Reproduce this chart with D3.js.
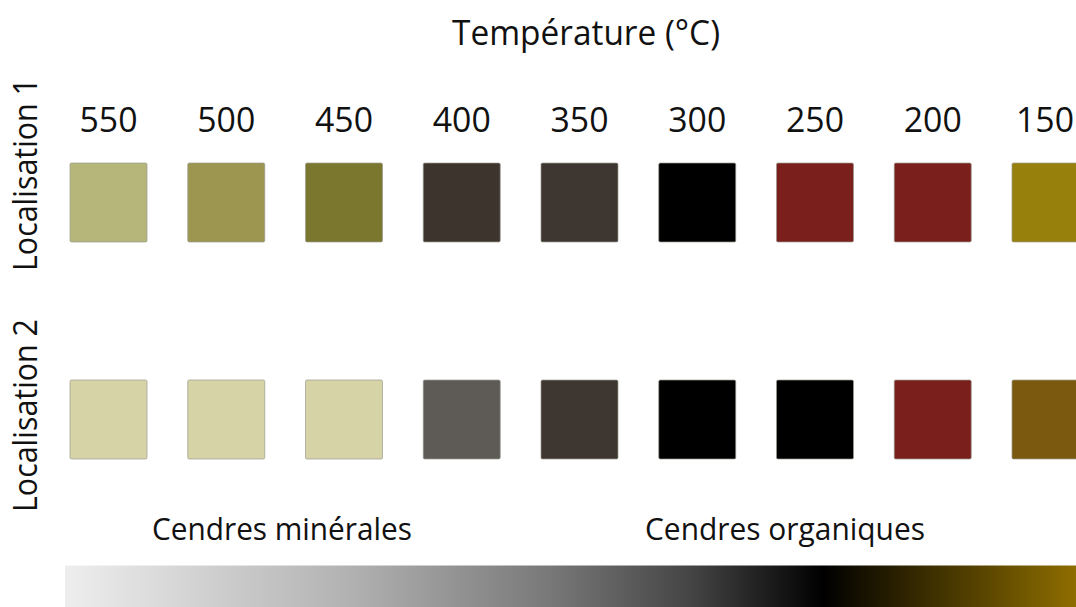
<!DOCTYPE html>
<html>
<head>
<meta charset="utf-8">
<script src="https://cdn.jsdelivr.net/npm/d3@7"></script>
<style>
  html, body { margin: 0; padding: 0; background: #ffffff; }
  svg { display: block; }
  text { font-family: "Open Sans", "Noto Sans", sans-serif; fill: #111; }
</style>
</head>
<body>
<svg id="chart" width="1076" height="607"></svg>
<script>
// ---- data ----
const chartTitle = "Température (°C)";
const temperatures = [550, 500, 450, 400, 350, 300, 250, 200, 150];
const locations = ["Localisation 1", "Localisation 2"];
const colorsLocalisation1 = ["#b6b67b", "#9d9650", "#7c772f", "#3d342e", "#3e3631", "#000000", "#7a1f1c", "#7a1f1c", "#97800b"];
const colorsLocalisation2 = ["#d6d3a6", "#d6d3a6", "#d6d3a6", "#5e5a56", "#3e3631", "#000000", "#000000", "#7a1f1c", "#7b5a10"];
const ashCategories = ["Cendres minérales", "Cendres organiques"];
const gradientStops = [
  { offset: 0.00, color: "#eeeeee" },
  { offset: 0.28, color: "#b2b2b2" },
  { offset: 0.48, color: "#787878" },
  { offset: 0.62, color: "#444444" },
  { offset: 0.75, color: "#000000" },
  { offset: 1.00, color: "#8e6e00" }
];

// ---- drawing ----
const svg = d3.select("#chart");
const W = 1076, H = 607;

const x = d3.scaleBand()
  .domain(temperatures)
  .range([70, 1089])
  .paddingInner(0.346)
  .paddingOuter(0);

const y = d3.scaleBand()
  .domain(locations)
  .range([163, 459])
  .paddingInner(0.636)
  .paddingOuter(0);

const rows = [
  { loc: locations[0], colors: colorsLocalisation1 },
  { loc: locations[1], colors: colorsLocalisation2 }
];

// title
svg.append("text")
  .attr("x", 586).attr("y", 45)
  .attr("text-anchor", "middle")
  .attr("font-size", 35)
  .attr("textLength", 268).attr("lengthAdjust", "spacingAndGlyphs")
  .text(chartTitle);

// temperature labels (top axis)
const axisTop = d3.axisTop(x).tickSize(0).tickPadding(0);
const gAxis = svg.append("g")
  .attr("transform", "translate(0,132)")
  .call(axisTop);
gAxis.select(".domain").remove();
gAxis.selectAll("text")
  .attr("font-size", 34)
  .attr("font-family", "\"Open Sans\", sans-serif")
  .attr("fill", "#111")
  .attr("dy", 0)
  .attr("textLength", 58).attr("lengthAdjust", "spacingAndGlyphs");
// keep labels inside the picture: clamp any that would overflow the right edge
gAxis.selectAll(".tick").each(function (d) {
  const cx = x(d) + x.bandwidth() / 2;
  if (cx + 29 > W - 2) {
    d3.select(this).select("text")
      .attr("text-anchor", "end")
      .attr("x", (W - 2) - cx);
  }
});

// squares
rows.forEach(r => {
  svg.append("g").selectAll("rect")
    .data(temperatures.map((t, i) => ({ t, c: r.colors[i] })))
    .join("rect")
    .attr("x", d => x(d.t))
    .attr("y", y(r.loc))
    .attr("width", x.bandwidth())
    .attr("height", y.bandwidth())
    .attr("rx", 1.5)
    .attr("fill", d => d.c)
    .attr("stroke", "#9a9a90")
    .attr("stroke-opacity", 0.7)
    .attr("stroke-width", 1);
});

// row labels
const rowLabelOffsets = [-28, -4];
locations.forEach((loc, i) => {
  const cy = y(loc) + y.bandwidth() / 2 + rowLabelOffsets[i];
  svg.append("text")
    .attr("transform", `translate(37,${cy}) rotate(-90)`)
    .attr("text-anchor", "middle")
    .attr("font-size", 33)
    .attr("textLength", 193).attr("lengthAdjust", "spacingAndGlyphs")
    .text(loc);
});

// ash category labels
const ashX = d3.scalePoint().domain(ashCategories).range([282, 785]);
const ashWidths = [260, 280];
ashCategories.forEach((c, i) => {
  svg.append("text")
    .attr("x", ashX(c)).attr("y", 540)
    .attr("text-anchor", "middle")
    .attr("font-size", 31)
    .attr("textLength", ashWidths[i]).attr("lengthAdjust", "spacingAndGlyphs")
    .text(c);
});

// gradient bar
const defs = svg.append("defs");
const grad = defs.append("linearGradient").attr("id", "ashGrad")
  .attr("x1", "0%").attr("x2", "100%").attr("y1", "0%").attr("y2", "0%");
grad.selectAll("stop").data(gradientStops).join("stop")
  .attr("offset", d => d.offset)
  .attr("stop-color", d => d.color);

svg.append("rect")
  .attr("x", 65).attr("y", 565)
  .attr("width", W - 65).attr("height", H - 565)
  .attr("fill", "url(#ashGrad)");
svg.append("line")
  .attr("x1", 65).attr("x2", W).attr("y1", 565.5).attr("y2", 565.5)
  .attr("stroke", "#ffffff").attr("stroke-opacity", 0.5);
</script>
</body>
</html>
